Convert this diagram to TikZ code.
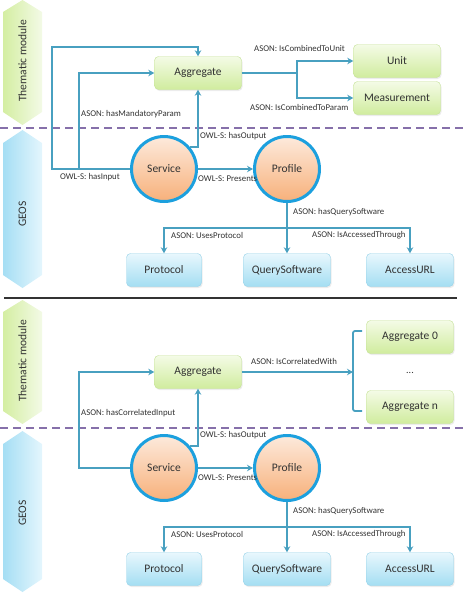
\documentclass[tikz,border=0pt]{standalone}
\usepackage{fontspec}
\setmainfont{Carlito}
\usetikzlibrary{arrows.meta,shadows}

\definecolor{lineblue}{RGB}{72,160,192}
\definecolor{ringblue}{RGB}{28,160,222}
\definecolor{grntop}{RGB}{244,251,230}
\definecolor{grnbot}{RGB}{208,236,158}
\definecolor{grnline}{RGB}{196,226,150}
\definecolor{blutop}{RGB}{232,247,253}
\definecolor{blubot}{RGB}{164,222,242}
\definecolor{bluline}{RGB}{150,210,232}
\definecolor{orgtop}{RGB}{253,234,220}
\definecolor{orgbot}{RGB}{247,176,122}
\definecolor{sepviolet}{RGB}{134,112,170}
\definecolor{txt}{RGB}{50,50,50}

\tikzset{
  greenbox/.style={draw=grnline, rounded corners=4pt, top color=grntop, bottom color=grnbot,
    minimum width=87pt, minimum height=33pt, font=\fontsize{11.5}{12}\selectfont, text=txt,
    drop shadow={opacity=0.15, shadow xshift=1pt, shadow yshift=-1.5pt}},
  bluebox/.style={draw=bluline, rounded corners=4pt, top color=blutop, bottom color=blubot,
    minimum width=87pt, minimum height=33pt, font=\fontsize{11.5}{12}\selectfont, text=txt,
    drop shadow={opacity=0.15, shadow xshift=1pt, shadow yshift=-1.5pt}},
  ball/.style={circle, draw=ringblue, line width=3pt, top color=orgtop, bottom color=orgbot,
    minimum size=65pt, font=\fontsize{11.5}{12}\selectfont, text=txt},
  lbl/.style={font=\fontsize{8.8}{10}\selectfont, text=txt, inner sep=1pt},
  hexlbl/.style={font=\fontsize{11.5}{12}\selectfont, text=txt, rotate=90},
  wire/.style={draw=lineblue, line width=1.8pt},
  conn/.style={wire, -{Stealth[length=6pt,width=6.5pt]}},
  sepline/.style={draw=sepviolet, line width=2pt, dash pattern=on 8pt off 5pt},
  thgreen/.style={left color={rgb,255:red,212;green,238;blue,162}, right color={rgb,255:red,243;green,250;blue,230}},
  geoblue/.style={left color={rgb,255:red,165;green,222;blue,244}, right color={rgb,255:red,228;green,246;blue,253}},
}

\begin{document}
\begin{tikzpicture}[x=1pt,y=-1pt]
  \useasboundingbox (0,0) rectangle (464,600);

  % side bands
  \shade[thgreen] (3,12)--(22.5,0)--(42,12)--(42,112)--(22.5,125)--(3,112)--cycle;
  \shade[geoblue] (3,143)--(22.5,130)--(42,143)--(42,275)--(22.5,288)--(3,275)--cycle;
  \shade[thgreen] (3,312)--(22.5,300)--(42,312)--(42,411)--(22.5,424)--(3,411)--cycle;
  \shade[geoblue] (3,444)--(22.5,431)--(42,444)--(42,579)--(22.5,592)--(3,579)--cycle;
  \node[hexlbl] (tm1) at (22.5,61) {Thematic module};
  \node[hexlbl] (geo1) at (22.5,214) {GEOS};
  \node[hexlbl] (tm2) at (22.5,361) {Thematic module};
  \node[hexlbl] (geo2) at (22.5,513) {GEOS};

  \draw[sepline] (0,128) -- (464,128);
  \draw[sepline] (0,428) -- (464,428);
  \draw[line width=1.5pt, black!80] (4,298) -- (457,298);

  % upper diagram
  \node[greenbox] (agg1) at (198,73) {Aggregate};
  \node[greenbox] (unit1) at (397,61) {Unit};
  \node[greenbox] (meas1) at (397,98) {Measurement};
  \node[ball] (svc1) at (164,169) {Service};
  \node[ball] (prf1) at (287,169) {Profile};
  \node[bluebox, minimum width=75pt] (pro1) at (164,270) {Protocol};
  \node[bluebox] (qs1) at (287,270) {QuerySoftware};
  \node[bluebox] (url1) at (410,270) {AccessURL};

  \coordinate (k1) at (52,47);
  \coordinate (k2) at (79,169);
  \coordinate (s1) at (297,73);
  \coordinate (b1) at (287,228);
  \draw[conn] (svc1.west) -| (k1) -| (agg1.north);
  \draw[conn] (k2) |- (agg1.west);
  \draw[conn] (svc1.40) -| (agg1.south);
  \draw[conn] (svc1.east) -- (prf1.west);
  \draw[wire] (agg1.east) -- (s1);
  \draw[conn] (s1) |- (unit1.west);
  \draw[conn] (s1) |- (meas1.west);
  \draw[conn] (prf1.south) -- (qs1.north);
  \draw[conn] (b1) -| (pro1.north);
  \draw[conn] (b1) -| (url1.north);

  \node[lbl, anchor=west] (l1) at (80,114) {ASON: hasMandatoryParam};
  \node[lbl, anchor=west] (l2) at (199,136) {OWL-S: hasOutput};
  \node[lbl] (l3) at (90,177) {OWL-S: hasInput};
  \node[lbl, anchor=west] (l4) at (197,179) {OWL-S: Presents};
  \node[lbl, anchor=west] (l5) at (253,48) {ASON: IsCombinedToUnit};
  \node[lbl, anchor=west] (l6) at (249,107) {ASON: IsCombinedToParam};
  \node[lbl, anchor=west] (l7) at (292,212) {ASON: hasQuerySoftware};
  \node[lbl, anchor=west] (l8) at (170,235) {ASON: UsesProtocol};
  \node[lbl, anchor=west] (l9) at (311,235) {ASON: IsAccessedThrough};

  % lower diagram
  \node[greenbox] (agg2) at (198,372) {Aggregate};
  \node[greenbox] (agz) at (410,337) {Aggregate 0};
  \node[greenbox] (agn) at (410,407) {Aggregate n};
  \node[lbl, font=\fontsize{10}{10}\selectfont] (dots) at (410,373) {...};
  \node[ball] (svc2) at (164,468) {Service};
  \node[ball] (prf2) at (287,468) {Profile};
  \node[bluebox, minimum width=75pt] (pro2) at (164,569) {Protocol};
  \node[bluebox] (qs2) at (287,569) {QuerySoftware};
  \node[bluebox] (url2) at (410,569) {AccessURL};

  \coordinate (k3) at (79,372);
  \coordinate (br) at (353,372);
  \coordinate (b2) at (287,527);
  \draw[wire, rounded corners=2pt] (362,331) -- (353,331) -- (353,411) -- (362,411);
  \draw[conn] (svc2.west) -| (k3) -- (agg2.west);
  \draw[conn] (svc2.40) -| (agg2.south);
  \draw[conn] (svc2.east) -- (prf2.west);
  \draw[conn] (agg2.east) -- (br);
  \draw[conn] (prf2.south) -- (qs2.north);
  \draw[conn] (b2) -| (pro2.north);
  \draw[conn] (b2) -| (url2.north);

  \node[lbl, anchor=west] (m1) at (80,413) {ASON: hasCorrelatedInput};
  \node[lbl, anchor=west] (m2) at (199,435) {OWL-S: hasOutput};
  \node[lbl, anchor=west] (m3) at (197,478) {OWL-S: Presents};
  \node[lbl, anchor=west] (m4) at (250,361) {ASON: IsCorrelatedWith};
  \node[lbl, anchor=west] (m5) at (292,511) {ASON: hasQuerySoftware};
  \node[lbl, anchor=west] (m6) at (170,534) {ASON: UsesProtocol};
  \node[lbl, anchor=west] (m7) at (311,534) {ASON: IsAccessedThrough};
\end{tikzpicture}
\end{document}
